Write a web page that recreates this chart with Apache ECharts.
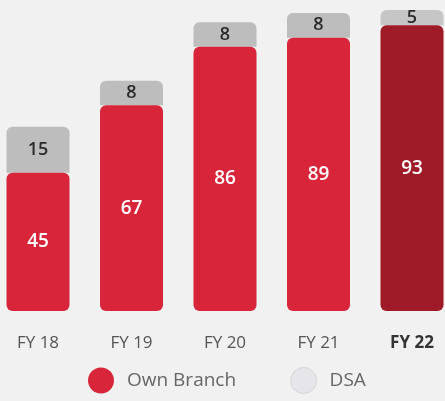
<!DOCTYPE html>
<html>
<head>
<meta charset="utf-8">
<script src="https://cdn.jsdelivr.net/npm/echarts@6/dist/echarts.min.js"></script>
<style>
  html, body { margin: 0; padding: 0; background: #f1f1f1; }
  #chart { width: 445px; height: 401px; }
</style>
</head>
<body>
<div id="chart"></div>
<script>
// data
const years = ["FY 18", "FY 19", "FY 20", "FY 21", "FY 22"];
const ownBranch = [45, 67, 86, 89, 93];
const dsa = [15, 8, 8, 8, 5];

const RED = "#d8253a";
const DARK_RED = "#9f1b27";
const GREY = "#bdbdbd";
const last = years.length - 1;

const chart = echarts.init(document.getElementById("chart"));

chart.setOption({
  backgroundColor: "#f1f1f1",
  textStyle: { fontFamily: "Open Sans" },
  animation: false,
  // boundaryGap off so the first/last bars sit near the edges like the original
  grid: { left: 38, right: 33, top: 10, bottom: 90 },
  legend: {
    bottom: 2,
    left: 83,
    itemGap: 54,
    itemWidth: 26,
    itemHeight: 26,
    icon: "circle",
    textStyle: { color: "#666", fontSize: 19, fontFamily: "Open Sans", padding: [0, 0, 0, 8] },
    data: [
      { name: "Own Branch", itemStyle: { color: RED } },
      { name: "DSA", itemStyle: { color: "#e6e6ea", borderColor: "#d6d6da", borderWidth: 1 } },
    ],
  },
  xAxis: {
    type: "category",
    data: years,
    boundaryGap: false,
    axisLine: { show: false },
    axisTick: { show: false },
    axisLabel: {
      interval: 0,
      hideOverlap: false,
      margin: 24,
      fontSize: 17,
      color: "#555",
      formatter: (v, i) => (i === last ? "{b|" + v + "}" : v),
      rich: { b: { fontWeight: "bold", fontSize: 17, color: "#333" } },
    },
  },
  yAxis: { type: "value", max: 98, show: false, splitLine: { show: false } },
  series: [
    {
      name: "Own Branch",
      type: "bar",
      stack: "total",
      barWidth: 63,
      data: ownBranch.map((v, i) => ({
        value: v,
        itemStyle: { color: i === last ? DARK_RED : RED },
      })),
      itemStyle: { borderRadius: 6 },
      label: {
        show: true,
        position: "inside",
        color: "#fff",
        fontSize: 19,
        fontWeight: 600,
      },
      z: 3,
    },
    {
      name: "DSA",
      type: "bar",
      stack: "total",
      barWidth: 63,
      data: dsa.map((v, i) => ({
        value: v,
        itemStyle: { color: i === last ? "#c6c6c6" : GREY },
      })),
      itemStyle: { borderRadius: [6, 6, 0, 0] },
      label: {
        show: true,
        position: "inside",
        color: "#2b2b2b",
        fontSize: 18,
        fontWeight: 600,
      },
      z: 2,
    },
  ],
});
</script>
</body>
</html>
